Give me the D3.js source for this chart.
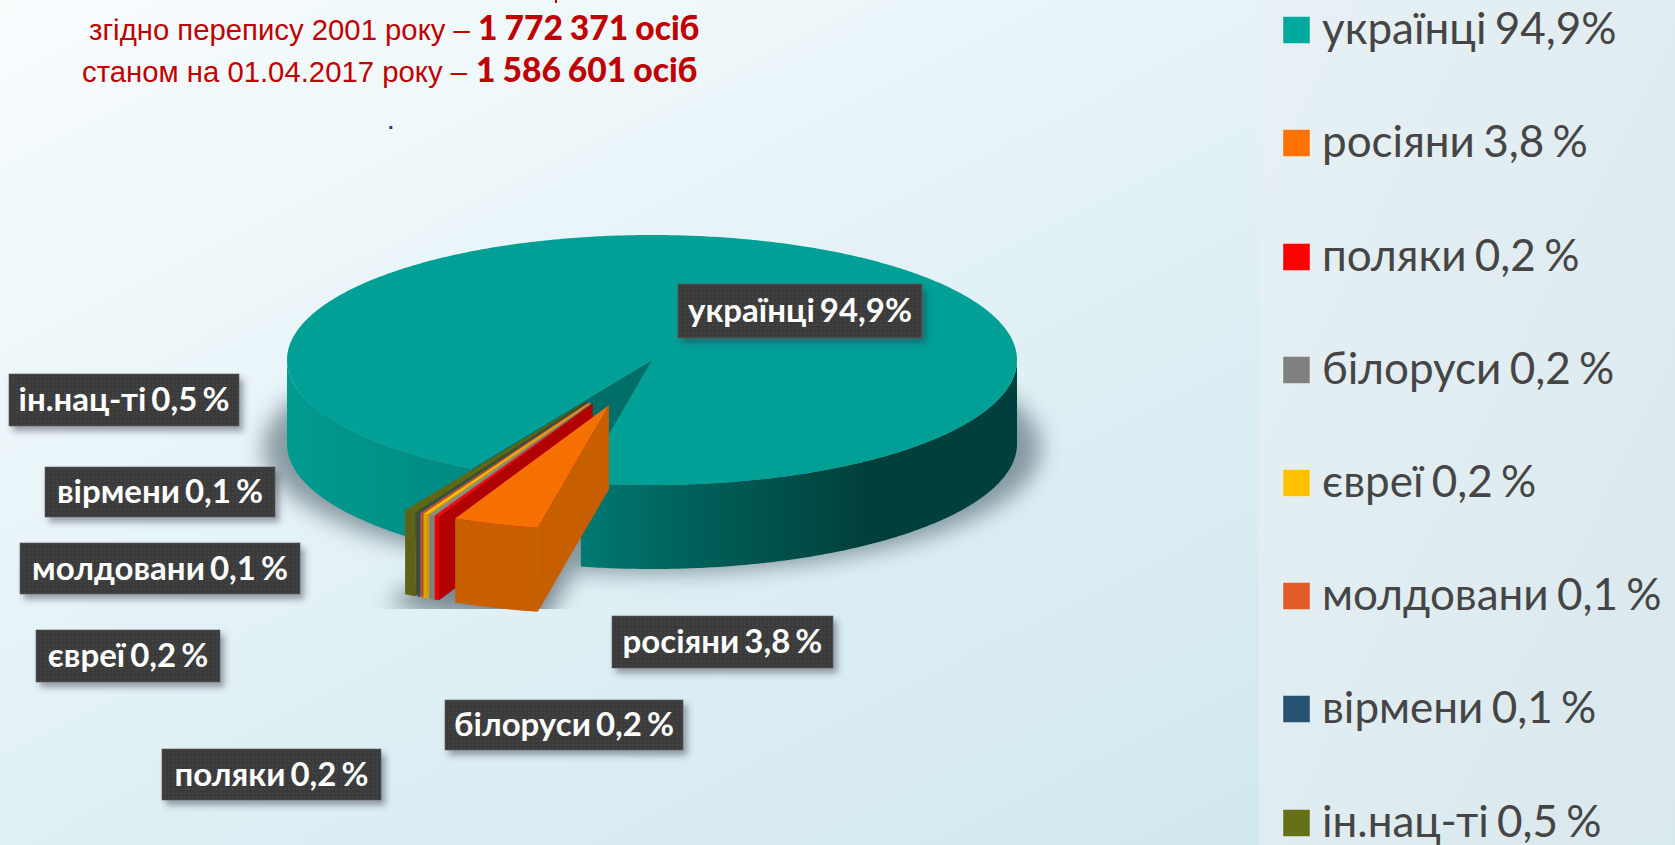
<!DOCTYPE html>
<html><head><meta charset="utf-8">
<script src="https://cdn.jsdelivr.net/npm/d3@7/dist/d3.min.js"></script>
<style>html,body{margin:0;padding:0;background:#e4f0f4;overflow:hidden}svg{display:block}</style>
</head><body><script>
const categories = ["українці","росіяни","поляки","білоруси","євреї","молдовани","вірмени","ін.нац-ті"];
const values = [94.9,3.8,0.2,0.2,0.2,0.1,0.1,0.5];
const legendTexts = ["українці 94,9%","росіяни 3,8 %","поляки 0,2 %","білоруси 0,2 %","євреї 0,2 %","молдовани 0,1 %","вірмени 0,1 %","ін.нац-ті 0,5 %"];
const topColors = ["#00a097","#f57000","#ff0000","#8a8a8a","#ffc000","#e15a28","#255270","#5f6614"];
const legendColors = ["#00a99d","#ff7200","#ff0000","#808080","#ffc000","#e15a28","#255270","#667017"];
const wallColors = ["#006d66","#c85f00","#e80000","#808080","#dba500","#c2522a","#2a4f68","#5c6316"];
const faceColors = ["#006f68","#c75e00","#b00000","#777777","#d6a000","#b84c22","#1f4560","#4a5010"];
const explode = [0,0.38,0.38,0.38,0.38,0.38,0.38,0.38];
const labelBoxes = [[678,284,244,54],[612,616,221,52],[162,749,219,51],[445,700,238,50],[36,630,184,52],[20,543,280,51],[45,467,230,50],[9,374,230,52]];
const legendY = [30,143,257,370,483,596,709,823];

const W=1675,H=845,TAU=Math.PI*2;
const svg=d3.select("body").append("svg").attr("width",W).attr("height",H);
const defs=svg.append("defs");
function lin(id,x1,y1,x2,y2,stops,user){const g=defs.append("linearGradient").attr("id",id).attr("x1",x1).attr("y1",y1).attr("x2",x2).attr("y2",y2);
  if(user)g.attr("gradientUnits","userSpaceOnUse");stops.forEach(s=>g.append("stop").attr("offset",s[0]).attr("stop-color",s[1]));}
lin("bg","0","0","1","1",[[0,"#f9fdfe"],[0.45,"#e2f1f6"],[1,"#cbe5ec"]]);
lin("panel","0","0","1","1",[[0,"#e7f1f5"],[1,"#d9e8ed"]]);
lin("wallU",287,0,1017,0,[[0,"#009a90"],[0.25,"#008a82"],[0.4,"#007a72"],[0.56,"#00605a"],[0.79,"#00403c"],[1,"#00403c"]],true);
const blur=defs.append("filter").attr("id","blur").attr("x","-20%").attr("y","-30%").attr("width","140%").attr("height","160%");
blur.append("feGaussianBlur").attr("stdDeviation",11);
const ds=defs.append("filter").attr("id","ds").attr("x","-10%").attr("y","-20%").attr("width","125%").attr("height","150%");
ds.append("feDropShadow").attr("dx",4).attr("dy",5).attr("stdDeviation",3).attr("flood-color","#334").attr("flood-opacity",0.45);
const pat=defs.append("pattern").attr("id","dots").attr("width",4).attr("height",4).attr("patternUnits","userSpaceOnUse");
pat.append("rect").attr("width",4).attr("height",4).attr("fill","#3b3b3b");
pat.append("circle").attr("cx",1).attr("cy",1).attr("r",0.7).attr("fill","#4d4d4d");
defs.append("clipPath").attr("id","floor").append("rect").attr("width",W).attr("height",609);

svg.append("rect").attr("width",W).attr("height",H).attr("fill","url(#bg)");
svg.append("rect").attr("x",1259).attr("width",W-1259).attr("height",H).attr("fill","url(#panel)");

// title text
const sansN="'Liberation Sans',Arial,sans-serif", cal="Lato,'Noto Sans',sans-serif";
const titles=[["згідно перепису 2001 року –","1 772 371 осіб",89,478,40],["станом на 01.04.2017 року –","1 586 601 осіб",82,476,82]];
titles.forEach(t=>{
  svg.append("text").attr("x",t[2]).attr("y",t[4]).attr("fill","#c00000").attr("font-family",sansN).attr("font-size",29.3).text(t[0]);
  svg.append("text").attr("x",t[3]).attr("y",t[4]).attr("fill","#c00000").attr("font-family",cal).attr("font-weight",900).attr("font-size",33.6).attr("word-spacing",-1).text(t[1]);
});
svg.append("rect").attr("x",555).attr("y",0).attr("width",2).attr("height",3).attr("fill","#c00000");
svg.append("text").attr("x",388).attr("y",129).attr("fill","#1f3a7a").attr("font-family",sansN).attr("font-weight",700).attr("font-size",20).text(".");

// pie geometry through scales
const px=d3.scaleLinear().domain([-1,1]).range([287,1017]);
const py=d3.scaleLinear().domain([1,-1]).range([235,485]);
const depth=84;
const pie=d3.pie().value(d=>d).sort(null).startAngle(-150.4*Math.PI/180).endAngle(209.6*Math.PI/180);
const arcs=pie(values).map((a,i)=>{const mid=(a.startAngle+a.endAngle)/2;
  return {i,a0:a.startAngle,a1:a.endAngle,ox:explode[i]*Math.sin(mid),oy:explode[i]*Math.cos(mid)};});
const P=(d,ang,r=1,dz=0)=>[px(d.ox+r*Math.sin(ang)),py(d.oy+r*Math.cos(ang))+dz];
const line=d3.line();
const samples=(a0,a1)=>{const n=Math.max(2,Math.ceil((a1-a0)/0.01));return d3.range(n+1).map(k=>a0+(a1-a0)*k/n);};
const topPath=(d,dz=0)=>line([P(d,d.a0,0,dz),...samples(d.a0,d.a1).map(a=>P(d,a,1,dz))])+"Z";
function wallPaths(d){ // front-facing rim parts: cos<0
  const out=[];let cur=[];
  samples(d.a0,d.a1).forEach(a=>{if(Math.cos(a)<=0){cur.push(a);}else{if(cur.length>1)out.push(cur);cur=[];}});
  if(cur.length>1)out.push(cur);
  return out.map(s=>line([...s.map(a=>P(d,a)),...s.slice().reverse().map(a=>P(d,a,1,depth))])+"Z");
}
const facePath=(d,ang)=>line([P(d,ang,0),P(d,ang,1),P(d,ang,1,depth),P(d,ang,0,depth)])+"Z";

// floor shadow
const sh=svg.append("g").attr("clip-path","url(#floor)").append("g").attr("filter","url(#blur)").attr("opacity",0.68);
arcs.slice(1).forEach(d=>sh.append("path").attr("d",topPath(d,depth+6)).attr("fill","#46585f").attr("stroke","#46585f").attr("stroke-width",14));
sh.append("path").attr("d",line(samples(0,TAU).map(a=>[px(1.065*Math.sin(a)),py(1.0*Math.cos(a))+depth+4]))+"Z").attr("fill","#5b6f79");

const gPie=svg.append("g");
// Ukrainian slice first
const u=arcs[0];
wallPaths(u).forEach(p=>gPie.append("path").attr("d",p).attr("fill","url(#wallU)"));
gPie.append("path").attr("d",facePath(u,u.a0)).attr("fill",faceColors[0]);
gPie.append("path").attr("d",topPath(u)).attr("fill",topColors[0]);
// exploded slices, left to right
arcs.slice(1).reverse().forEach(d=>{
  gPie.append("path").attr("d",facePath(d,d.a0)).attr("fill",faceColors[d.i]);
  wallPaths(d).forEach(p=>gPie.append("path").attr("d",p).attr("fill",wallColors[d.i]));
  gPie.append("path").attr("d",topPath(d)).attr("fill",topColors[d.i]);
});

// data labels
const lab=svg.append("g").selectAll("g").data(categories).join("g");
lab.append("rect").attr("x",(d,i)=>labelBoxes[i][0]).attr("y",(d,i)=>labelBoxes[i][1]).attr("width",(d,i)=>labelBoxes[i][2]).attr("height",(d,i)=>labelBoxes[i][3])
  .attr("fill","url(#dots)").attr("stroke","#5a5a5a").attr("stroke-width",0.6).attr("filter","url(#ds)");
lab.append("text").attr("x",(d,i)=>labelBoxes[i][0]+labelBoxes[i][2]/2).attr("y",(d,i)=>labelBoxes[i][1]+labelBoxes[i][3]/2+11)
  .attr("text-anchor","middle").attr("fill","#fff").attr("font-family",cal).attr("font-weight",700).attr("font-size",33).attr("word-spacing",-3)
  .text((d,i)=>legendTexts[i]);

// legend
const leg=svg.append("g").selectAll("g").data(categories).join("g").attr("transform",(d,i)=>`translate(1283,${legendY[i]})`);
leg.append("rect").attr("y",-13.5).attr("width",27).attr("height",27).attr("fill",(d,i)=>legendColors[i]).attr("stroke","#fff").attr("stroke-opacity",0.4).attr("stroke-width",1);
leg.append("text").attr("x",39).attr("y",14).attr("fill","#454545").attr("font-family",cal).attr("font-size",44).attr("word-spacing",-3).text((d,i)=>legendTexts[i]);
</script></body></html>
